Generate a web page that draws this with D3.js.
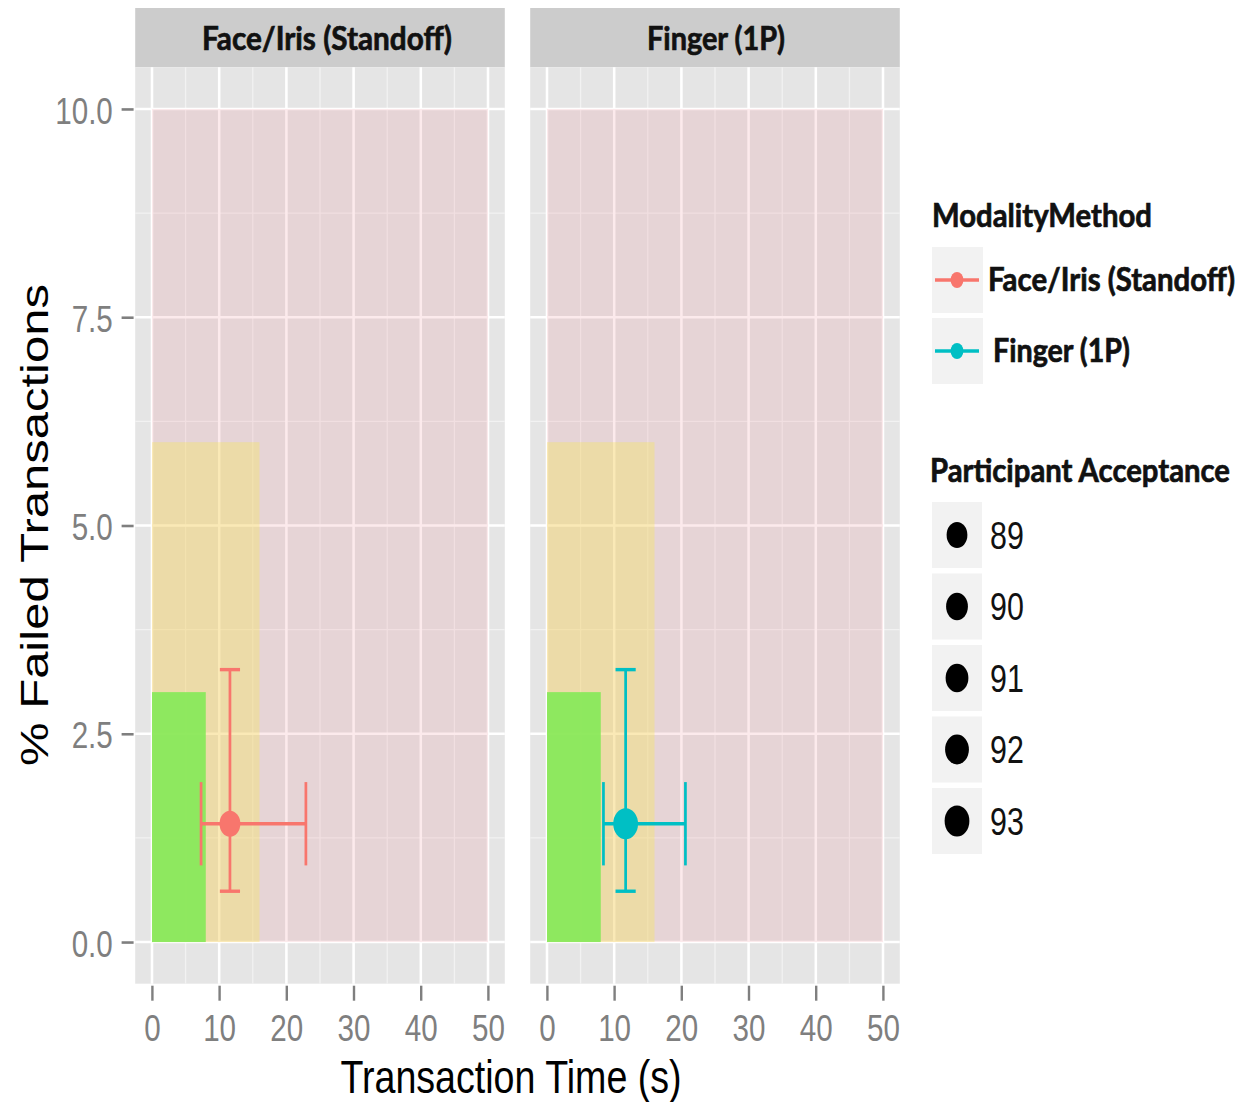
<!DOCTYPE html>
<html>
<head>
<meta charset="utf-8">
<script src="https://cdn.jsdelivr.net/npm/d3@7"></script>
<style>
body { margin: 0; background: #fff; }
svg { display: block; }
</style>
</head>
<body>
<div id="chart"></div>
<script>
// data
const facets = ["Face/Iris (Standoff)", "Finger (1P)"];
const meanTime = [11.6, 11.7];
const timeLow = [7.3, 8.4];
const timeHigh = [22.9, 20.6];
const meanFail = [1.42, 1.42];
const failLow = [0.61, 0.61];
const failHigh = [3.27, 3.27];
const acceptance = [89, 93];
const seriesColors = ["#F8766D", "#00BFC4"];

// background target zones (largest first)
const zoneTime = [50, 16, 8];
const zoneFail = [10, 6, 3];
const zoneFill = ["#ec7480", "#f7e853", "#84e956"];
const zoneAlpha = [0.15, 0.35, 0.9];

const xTicks = [0, 10, 20, 30, 40, 50];
const xMinor = [5, 15, 25, 35, 45];
const yTicks = [0, 2.5, 5, 7.5, 10];
const yMinor = [1.25, 3.75, 6.25, 8.75];
const acceptLevels = [89, 90, 91, 92, 93];

// the original is squeezed sideways, so draw wide and scale x down
const SX = 0.8;
const u = px => px / SX;

const svg = d3.select("#chart").append("svg")
  .attr("width", 1253)
  .attr("height", 1102);

const root = svg.append("g").attr("transform", `scale(${SX},1)`);

const panelLeft = [135.2, 530.2].map(u);
const panelW = u(369.6);
const panelTop = 67.3, panelBottom = 983.7, stripTop = 8;

const y = d3.scaleLinear().domain([-0.5, 10.5]).range([panelBottom, panelTop]);
const r = d3.scaleSqrt().domain([89, 93]).range([13, 15.5]);

const boldFont = "Lato, 'Open Sans', sans-serif";
const stripWidths = [u(250), u(138)];
const stripCenter = [327, 716].map(u);

facets.forEach(function(name, i) {
  const x = d3.scaleLinear().domain([-2.5, 52.5]).range([panelLeft[i], panelLeft[i] + panelW]);
  const g = root.append("g");

  // strip
  g.append("rect")
    .attr("x", panelLeft[i]).attr("y", stripTop)
    .attr("width", panelW).attr("height", panelTop - stripTop)
    .attr("fill", "#cccccc");
  g.append("text")
    .attr("x", stripCenter[i]).attr("y", 50)
    .attr("text-anchor", "middle")
    .attr("font-family", boldFont)
    .attr("font-weight", "bold")
    .attr("font-size", 32)
    .attr("textLength", stripWidths[i])
    .attr("lengthAdjust", "spacingAndGlyphs")
    .attr("fill", "#111")
    .attr("stroke", "#111").attr("stroke-width", 0.7)
    .text(name);

  // panel + grid
  g.append("rect")
    .attr("x", panelLeft[i]).attr("y", panelTop)
    .attr("width", panelW).attr("height", panelBottom - panelTop)
    .attr("fill", "#e5e5e5");

  g.selectAll(".vminor").data(xMinor).enter().append("line")
    .attr("x1", d => x(d)).attr("x2", d => x(d))
    .attr("y1", panelTop).attr("y2", panelBottom)
    .attr("stroke", "#f2f2f2").attr("stroke-width", 1.6);
  g.selectAll(".hminor").data(yMinor).enter().append("line")
    .attr("x1", panelLeft[i]).attr("x2", panelLeft[i] + panelW)
    .attr("y1", d => y(d)).attr("y2", d => y(d))
    .attr("stroke", "#f2f2f2").attr("stroke-width", 1.4);
  g.selectAll(".vmajor").data(xTicks).enter().append("line")
    .attr("x1", d => x(d)).attr("x2", d => x(d))
    .attr("y1", panelTop).attr("y2", panelBottom)
    .attr("stroke", "#ffffff").attr("stroke-width", 3.2);
  g.selectAll(".hmajor").data(yTicks).enter().append("line")
    .attr("x1", panelLeft[i]).attr("x2", panelLeft[i] + panelW)
    .attr("y1", d => y(d)).attr("y2", d => y(d))
    .attr("stroke", "#ffffff").attr("stroke-width", 2.6);

  // target zones
  g.selectAll(".zone").data(zoneTime).enter().append("rect")
    .attr("x", x(0))
    .attr("y", (d, k) => y(zoneFail[k]))
    .attr("width", d => x(d) - x(0))
    .attr("height", (d, k) => y(0) - y(zoneFail[k]))
    .attr("fill", (d, k) => zoneFill[k])
    .attr("fill-opacity", (d, k) => zoneAlpha[k]);

  // error bars
  const col = seriesColors[i];
  const eb = g.append("g").attr("stroke", col).attr("stroke-width", 3.4).attr("fill", "none");
  eb.append("line")
    .attr("x1", x(meanTime[i])).attr("x2", x(meanTime[i]))
    .attr("y1", y(failLow[i])).attr("y2", y(failHigh[i]));
  [failLow[i], failHigh[i]].forEach(function(v) {
    eb.append("line")
      .attr("x1", x(meanTime[i] - 1.5)).attr("x2", x(meanTime[i] + 1.5))
      .attr("y1", y(v)).attr("y2", y(v));
  });
  eb.append("line")
    .attr("x1", x(timeLow[i])).attr("x2", x(timeHigh[i]))
    .attr("y1", y(meanFail[i])).attr("y2", y(meanFail[i]));
  [timeLow[i], timeHigh[i]].forEach(function(v) {
    eb.append("line")
      .attr("x1", x(v)).attr("x2", x(v))
      .attr("y1", y(meanFail[i] - 0.5)).attr("y2", y(meanFail[i] + 0.5));
  });

  g.append("circle")
    .attr("cx", x(meanTime[i])).attr("cy", y(meanFail[i]))
    .attr("r", r(acceptance[i]))
    .attr("fill", col);

  // x axis
  const xa = g.append("g")
    .attr("transform", `translate(0, ${panelBottom + 2})`)
    .call(d3.axisBottom(x).tickValues(xTicks).tickSize(15).tickPadding(14).tickFormat(d3.format("d")));
  xa.select(".domain").remove();
  xa.selectAll("line").attr("stroke", "#7f7f7f").attr("stroke-width", 3);
  xa.selectAll("text")
    .attr("fill", "#7f7f7f")
    .attr("font-family", "'Liberation Sans', Arial, sans-serif")
    .attr("font-size", 37);

  if (i === 0) {
    const ya = g.append("g")
      .attr("transform", `translate(${panelLeft[0] - 2}, 0)`)
      .call(d3.axisLeft(y).tickValues(yTicks).tickSize(15).tickPadding(11).tickFormat(d3.format(".1f")));
    ya.select(".domain").remove();
    ya.selectAll("line").attr("stroke", "#7f7f7f").attr("stroke-width", 2.6);
    ya.selectAll("text")
      .attr("fill", "#7f7f7f")
      .attr("dy", "0.38em")
      .attr("font-family", "'Liberation Sans', Arial, sans-serif")
      .attr("font-size", 37);
  }
});

// axis titles
root.append("text")
  .attr("x", u(511)).attr("y", 1093)
  .attr("text-anchor", "middle")
  .attr("font-family", "'Liberation Sans', Arial, sans-serif")
  .attr("font-size", 47)
  .attr("fill", "#000")
  .text("Transaction Time (s)");

root.append("text")
  .attr("transform", `translate(${u(48)}, 525) rotate(-90)`)
  .attr("text-anchor", "middle")
  .attr("font-family", "'Liberation Sans', Arial, sans-serif")
  .attr("font-size", 49)
  .attr("fill", "#000")
  .text("% Failed Transactions");

// legend: ModalityMethod
const leg = root.append("g");
leg.append("text")
  .attr("x", u(932)).attr("y", 227)
  .attr("font-family", boldFont).attr("font-weight", "bold").attr("font-size", 33)
  .attr("textLength", u(220)).attr("lengthAdjust", "spacingAndGlyphs")
  .attr("fill", "#111").attr("stroke", "#111").attr("stroke-width", 0.7)
  .text("ModalityMethod");

const modTop = [247, 318];
const modLabelX = [988, 993].map(u);
const modLabelW = [247, 137].map(u);
facets.forEach(function(name, i) {
  leg.append("rect")
    .attr("x", u(932)).attr("y", modTop[i])
    .attr("width", u(51)).attr("height", 66)
    .attr("fill", "#f2f2f2");
  const cy = modTop[i] + 33;
  leg.append("line")
    .attr("x1", u(935)).attr("x2", u(979))
    .attr("y1", cy).attr("y2", cy)
    .attr("stroke", seriesColors[i]).attr("stroke-width", 3.4);
  leg.append("circle")
    .attr("cx", u(957)).attr("cy", cy).attr("r", 8)
    .attr("fill", seriesColors[i]);
  leg.append("text")
    .attr("x", modLabelX[i]).attr("y", cy + 11)
    .attr("font-family", boldFont).attr("font-weight", "bold").attr("font-size", 32)
    .attr("textLength", modLabelW[i]).attr("lengthAdjust", "spacingAndGlyphs")
    .attr("fill", "#111").attr("stroke", "#111").attr("stroke-width", 0.7)
    .text(name);
});

// legend: Participant Acceptance
leg.append("text")
  .attr("x", u(930)).attr("y", 482)
  .attr("font-family", boldFont).attr("font-weight", "bold").attr("font-size", 33)
  .attr("textLength", u(300)).attr("lengthAdjust", "spacingAndGlyphs")
  .attr("fill", "#111").attr("stroke", "#111").attr("stroke-width", 0.7)
  .text("Participant Acceptance");

acceptLevels.forEach(function(v, k) {
  const top = 502 + k * 71.5;
  leg.append("rect")
    .attr("x", u(932)).attr("y", top)
    .attr("width", u(50)).attr("height", 66)
    .attr("fill", "#f2f2f2");
  leg.append("circle")
    .attr("cx", u(957)).attr("cy", top + 33)
    .attr("r", r(v))
    .attr("fill", "#000");
  leg.append("text")
    .attr("x", u(990)).attr("y", top + 47)
    .attr("font-family", "'Liberation Sans', Arial, sans-serif")
    .attr("font-size", 38)
    .attr("fill", "#111")
    .text(v);
});
</script>
</body>
</html>
